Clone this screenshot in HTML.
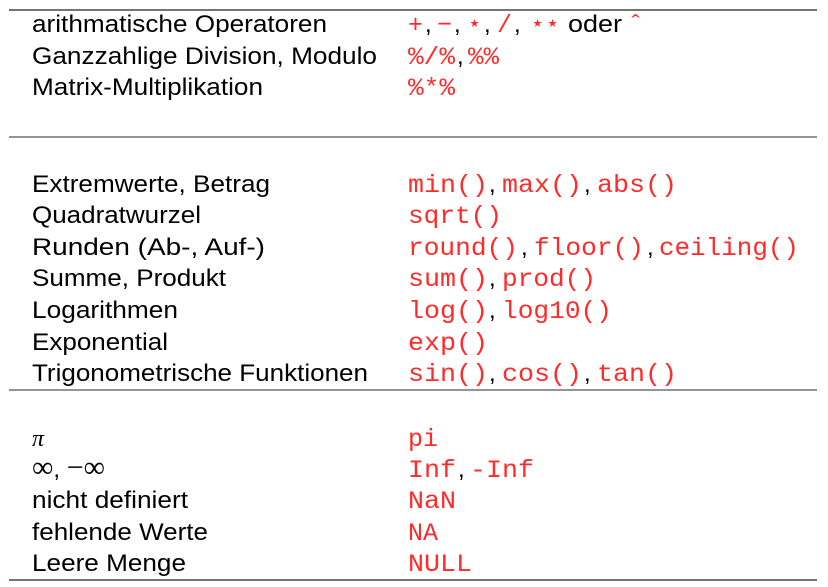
<!DOCTYPE html>
<html><head><meta charset="utf-8"><style>
html,body{margin:0;padding:0;background:#fff;width:828px;height:587px;overflow:hidden}
svg{display:block}
.s{font-family:"Liberation Sans",sans-serif;font-size:24px;fill:#000}
.m{font-family:"Liberation Mono",monospace;font-size:25px;fill:#ff2a2a}
.r{font-family:"Liberation Serif",serif;font-size:24px;fill:#000;font-style:italic}
</style></head><body>
<svg width="828" height="587" xmlns="http://www.w3.org/2000/svg">
<line x1="9" y1="10" x2="817" y2="10" stroke="#222" stroke-width="1.2"/>
<line x1="9" y1="137" x2="817" y2="137" stroke="#555" stroke-width="1.2"/>
<line x1="9" y1="390" x2="817" y2="390" stroke="#555" stroke-width="1.2"/>
<line x1="9" y1="580" x2="817" y2="580" stroke="#222" stroke-width="1.2"/>

<text class="s" x="32" y="32" textLength="295" lengthAdjust="spacingAndGlyphs">arithmatische Operatoren</text>
<text class="s" x="32" y="64" textLength="345" lengthAdjust="spacingAndGlyphs">Ganzzahlige Division, Modulo</text>
<text class="s" x="32" y="95" textLength="231" lengthAdjust="spacingAndGlyphs">Matrix-Multiplikation</text>
<text class="s" x="32" y="192" textLength="238" lengthAdjust="spacingAndGlyphs">Extremwerte, Betrag</text>
<text class="s" x="32" y="223" textLength="169" lengthAdjust="spacingAndGlyphs">Quadratwurzel</text>
<text class="s" x="32" y="255" textLength="233" lengthAdjust="spacingAndGlyphs">Runden (Ab-, Auf-)</text>
<text class="s" x="32" y="286" textLength="194" lengthAdjust="spacingAndGlyphs">Summe, Produkt</text>
<text class="s" x="32" y="318" textLength="146" lengthAdjust="spacingAndGlyphs">Logarithmen</text>
<text class="s" x="32" y="350" textLength="136" lengthAdjust="spacingAndGlyphs">Exponential</text>
<text class="s" x="32" y="381" textLength="336" lengthAdjust="spacingAndGlyphs">Trigonometrische Funktionen</text>
<text class="r" x="32" y="446">π</text>
<text class="s" x="32" y="477"><tspan font-family="Liberation Serif" font-size="30">∞</tspan>, <tspan font-family="Liberation Serif" font-size="30">−∞</tspan></text>
<text class="s" x="32" y="508" textLength="156" lengthAdjust="spacingAndGlyphs">nicht definiert</text>
<text class="s" x="32" y="540" textLength="176" lengthAdjust="spacingAndGlyphs">fehlende Werte</text>
<text class="s" x="32" y="571" textLength="154" lengthAdjust="spacingAndGlyphs">Leere Menge</text>

<text class="m" x="408" y="32">+</text><text class="s" x="425" y="32">,</text>
<text class="m" x="437" y="32">−</text><text class="s" x="454" y="32">,</text>
<text class="m" x="467" y="32">⋆</text><text class="s" x="484" y="32">,</text>
<text class="m" x="497" y="32">/</text><text class="s" x="514" y="32">,</text>
<text class="m" x="530" y="32">⋆⋆</text>
<text class="s" x="568" y="32" textLength="54" lengthAdjust="spacingAndGlyphs">oder</text>
<text class="m" x="628" y="32">ˆ</text>
<text class="m" x="408" y="64" textLength="47" lengthAdjust="spacingAndGlyphs">%/%</text><text class="s" x="457" y="64">,</text>
<text class="m" x="468" y="64" textLength="31" lengthAdjust="spacingAndGlyphs">%%</text>
<text class="m" x="408" y="95" textLength="47" lengthAdjust="spacingAndGlyphs">%*%</text>

<text class="m" x="408" y="192" textLength="80" lengthAdjust="spacingAndGlyphs">min()</text><text class="s" x="489" y="192">,</text>
<text class="m" x="502" y="192" textLength="80" lengthAdjust="spacingAndGlyphs">max()</text><text class="s" x="584" y="192">,</text>
<text class="m" x="597" y="192" textLength="80" lengthAdjust="spacingAndGlyphs">abs()</text>
<text class="m" x="408" y="223" textLength="94" lengthAdjust="spacingAndGlyphs">sqrt()</text>
<text class="m" x="408" y="255" textLength="110" lengthAdjust="spacingAndGlyphs">round()</text><text class="s" x="521" y="255">,</text>
<text class="m" x="534" y="255" textLength="110" lengthAdjust="spacingAndGlyphs">floor()</text><text class="s" x="647" y="255">,</text>
<text class="m" x="659" y="255" textLength="140" lengthAdjust="spacingAndGlyphs">ceiling()</text>
<text class="m" x="408" y="286" textLength="80" lengthAdjust="spacingAndGlyphs">sum()</text><text class="s" x="489" y="286">,</text>
<text class="m" x="502" y="286" textLength="94" lengthAdjust="spacingAndGlyphs">prod()</text>
<text class="m" x="408" y="318" textLength="80" lengthAdjust="spacingAndGlyphs">log()</text><text class="s" x="489" y="318">,</text>
<text class="m" x="502" y="318" textLength="110" lengthAdjust="spacingAndGlyphs">log10()</text>
<text class="m" x="408" y="350" textLength="80" lengthAdjust="spacingAndGlyphs">exp()</text>
<text class="m" x="408" y="381" textLength="80" lengthAdjust="spacingAndGlyphs">sin()</text><text class="s" x="489" y="381">,</text>
<text class="m" x="502" y="381" textLength="80" lengthAdjust="spacingAndGlyphs">cos()</text><text class="s" x="584" y="381">,</text>
<text class="m" x="597" y="381" textLength="80" lengthAdjust="spacingAndGlyphs">tan()</text>

<text class="m" x="408" y="446">pi</text>
<text class="m" x="408" y="477" textLength="48" lengthAdjust="spacingAndGlyphs">Inf</text><text class="s" x="458" y="477">,</text>
<text class="m" x="470" y="477" textLength="64" lengthAdjust="spacingAndGlyphs">-Inf</text>
<text class="m" x="408" y="508" textLength="48" lengthAdjust="spacingAndGlyphs">NaN</text>
<text class="m" x="408" y="540">NA</text>
<text class="m" x="408" y="571" textLength="64" lengthAdjust="spacingAndGlyphs">NULL</text>
</svg>
</body></html>
